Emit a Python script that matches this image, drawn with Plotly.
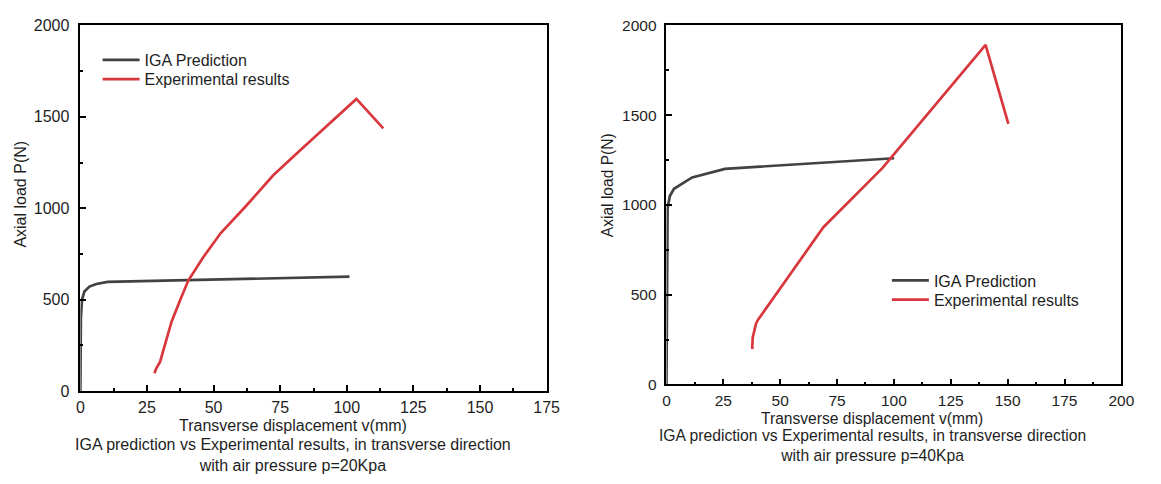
import plotly.graph_objects as go

# Left panel: p = 20 kPa
iga20_x = [0, 0.2, 0.6, 1.5, 3.4, 6, 10.2, 101]
iga20_y = [0, 400, 500, 545, 572, 586, 598, 626]
exp20_x = [27.8, 28.5, 29.9, 31.5, 34.2, 37.5, 40.5, 46, 52.7, 62, 72.3, 82, 92.6, 103.6, 113.7]
exp20_y = [98, 125, 160, 240, 379, 500, 605, 730, 865, 1010, 1179, 1310, 1450, 1598, 1437]

# Right panel: p = 40 kPa
iga40_x = [0, 0.3, 0.5, 1.5, 3.3, 11.3, 25.7, 100.1]
iga40_y = [0, 700, 983, 1050, 1090, 1153, 1201, 1260]
exp40_x = [37.7, 37.9, 39.4, 40.5, 69, 95, 140.3, 150.3]
exp40_y = [197, 260, 340, 365, 876, 1206, 1891, 1451]

series_names = ["IGA Prediction", "Experimental results"]
x_ticks_left = [0, 25, 50, 75, 100, 125, 150, 175]
x_ticks_right = [0, 25, 50, 75, 100, 125, 150, 175, 200]
y_ticks = [0, 500, 1000, 1500, 2000]

x_title = "Transverse displacement v(mm)"
y_title = "Axial load P(N)"
caption_20 = "IGA prediction vs Experimental results, in transverse direction<br>with air pressure p=20Kpa"
caption_40 = "IGA prediction vs Experimental results, in transverse direction<br>with air pressure p=40Kpa"

GREY = "#424242"
RED = "#d8383d"
INK = "#1e1e1e"
FONT = "Liberation Sans, Arial, sans-serif"
W, H = 1161, 484


def px_x(p):
    return p / W


def px_y(p):
    return 1 - p / H


fig = go.Figure()
traces = [
    (iga20_x, iga20_y, series_names[0], GREY, "x", "y", "legend"),
    (exp20_x, exp20_y, series_names[1], RED, "x", "y", "legend2"),
    (iga40_x, iga40_y, series_names[0], GREY, "x2", "y2", "legend3"),
    (exp40_x, exp40_y, series_names[1], RED, "x2", "y2", "legend4"),
]
for xs, ys, name, color, xa, ya, lg in traces:
    fig.add_trace(go.Scatter(x=xs, y=ys, mode="lines", name=name, showlegend=True,
                             line=dict(color=color, width=2.7),
                             xaxis=xa, yaxis=ya, legend=lg))

axis_common = dict(
    showline=True, linecolor="black", linewidth=1.6, mirror=True,
    ticks="inside", ticklen=6, tickwidth=1.5, tickcolor="black",
    showgrid=False, zeroline=False,
)


def legend_at(left_px, center_px):
    return dict(x=px_x(left_px), y=px_y(center_px), xanchor="left", yanchor="middle",
                bgcolor="rgba(0,0,0,0)", borderwidth=0,
                font=dict(family=FONT, size=16, color=INK), itemwidth=37)


fig.update_layout(
    width=W, height=H,
    margin=dict(l=0, r=0, t=0, b=0),
    showlegend=True,
    paper_bgcolor="white", plot_bgcolor="white",
    font=dict(family=FONT, color=INK),
    xaxis=dict(domain=[px_x(77.5), px_x(550.7)], range=[0, 175], tickvals=x_ticks_left,
               minor=dict(dtick=12.5, ticks="inside", ticklen=3, tickcolor="black"),
               tickfont=dict(family=FONT, size=16, color=INK), ticklabelstandoff=1,
               anchor="y", **axis_common),
    yaxis=dict(domain=[px_y(397), px_y(17)], range=[0, 2000], tickvals=y_ticks,
               minor=dict(dtick=250, ticks="inside", ticklen=3, tickcolor="black"),
               tickfont=dict(family=FONT, size=16, color=INK), ticklabelstandoff=6,
               anchor="x", **axis_common),
    xaxis2=dict(domain=[px_x(672.3), px_x(1134)], range=[0, 200], tickvals=x_ticks_right,
                minor=dict(dtick=12.5, ticks="inside", ticklen=3, tickcolor="black"),
                tickfont=dict(family=FONT, size=15.5, color=INK), ticklabelstandoff=1,
                anchor="y2", **axis_common),
    yaxis2=dict(domain=[px_y(390), px_y(17)], range=[0, 2000], tickvals=y_ticks,
                minor=dict(dtick=250, ticks="inside", ticklen=3, tickcolor="black"),
                tickfont=dict(family=FONT, size=15.5, color=INK), ticklabelstandoff=5,
                anchor="x2", **axis_common),
    legend=legend_at(95, 53),
    legend2=legend_at(95, 73),
    legend3=legend_at(896, 282),
    legend4=legend_at(896, 302),
)

annotations = [
    dict(text=y_title, x=px_x(17), y=px_y(192), textangle=-90, font_size=16),
    dict(text=y_title, x=px_x(612), y=px_y(183), textangle=-90, font_size=15.6),
    dict(text=x_title, x=px_x(293), y=px_y(433), font_size=16),
    dict(text=x_title, x=px_x(881), y=px_y(425), font_size=15.6),
    dict(text=caption_20, x=px_x(293), y=px_y(463), font_size=16),
    dict(text=caption_40, x=px_x(881), y=px_y(453.5), font_size=15.7),
]
for a in annotations:
    fig.add_annotation(xref="paper", yref="paper", showarrow=False,
                       xanchor="center", yanchor="middle",
                       font=dict(family=FONT, color=INK, size=a.pop("font_size")), **a)

fig.write_html("out.html")
